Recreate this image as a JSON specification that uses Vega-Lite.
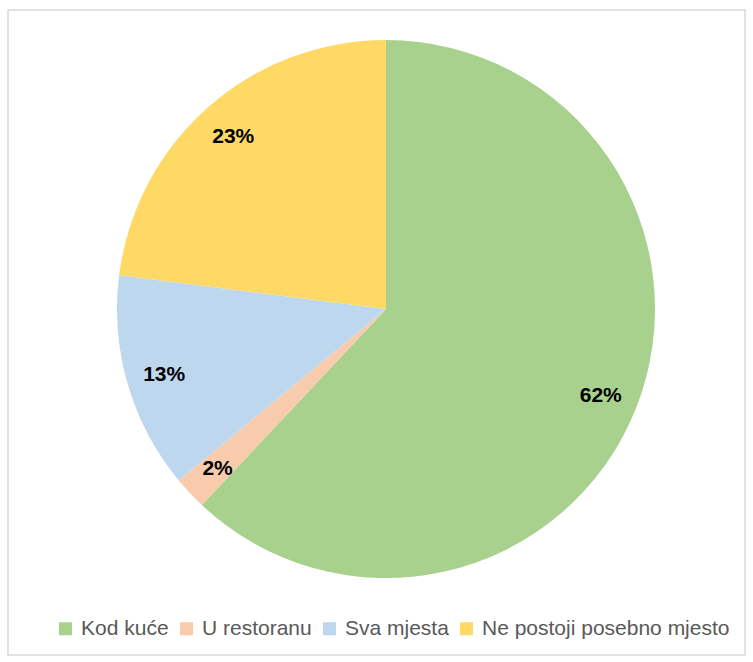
{
  "$schema": "https://vega.github.io/schema/vega-lite/v6.json",
  "width": 737,
  "height": 645,
  "padding": {"left": 8, "top": 10, "right": 8, "bottom": 7},
  "autosize": {"type": "none"},
  "background": "#ffffff",
  "data": {"values": [
    {"kategorija": "Kod kuće", "postotak": 62, "red": 1, "oznaka": "62%"},
    {"kategorija": "U restoranu", "postotak": 2, "red": 2, "oznaka": "2%"},
    {"kategorija": "Sva mjesta", "postotak": 13, "red": 3, "oznaka": "13%"},
    {"kategorija": "Ne postoji posebno mjesto", "postotak": 23, "red": 4, "oznaka": "23%"}
  ]},
  "layer": [
    {
      "data": {"values": [{"okvir": 1}]},
      "mark": {"type": "rect", "x": 0, "y": 0, "x2": {"expr": "width"}, "y2": {"expr": "height"}, "fill": "#ffffff", "stroke": "#d9d9d9", "strokeWidth": 1.5},
      "encoding": {}
    },
    {
      "mark": {"type": "arc", "radius": 269, "x": {"expr": "width/2 + 9.5"}, "y": {"expr": "height/2 - 23.5"}},
      "encoding": {
        "theta": {"field": "postotak", "type": "quantitative", "stack": true},
        "order": {"field": "red", "type": "quantitative"},
        "color": {
          "field": "kategorija",
          "type": "nominal",
          "sort": ["Kod kuće", "U restoranu", "Sva mjesta", "Ne postoji posebno mjesto"],
          "scale": {
            "domain": ["Kod kuće", "U restoranu", "Sva mjesta", "Ne postoji posebno mjesto"],
            "range": ["#A9D18E", "#F8CBAD", "#BDD7EE", "#FFD966"]
          },
          "legend": {
            "title": null,
            "orient": "none",
            "direction": "horizontal",
            "legendX": 47,
            "legendY": 608,
            "symbolType": "square",
            "symbolSize": 169,
            "symbolStrokeWidth": 0,
            "labelFont": "Liberation Sans",
            "labelFontSize": 21,
            "labelColor": "#595959",
            "labelOffset": 5,
            "columnPadding": 7,
            "labelLimit": 400
          }
        }
      }
    },
    {
      "mark": {"type": "text", "radius": 231, "x": {"expr": "width/2 + 9.5"}, "y": {"expr": "height/2 - 22"}, "font": "Liberation Sans", "fontWeight": "bold", "fontSize": 21, "color": "#000000"},
      "encoding": {
        "theta": {"field": "postotak", "type": "quantitative", "stack": true},
        "order": {"field": "red", "type": "quantitative"},
        "text": {"field": "oznaka", "type": "nominal"}
      }
    }
  ]
}
